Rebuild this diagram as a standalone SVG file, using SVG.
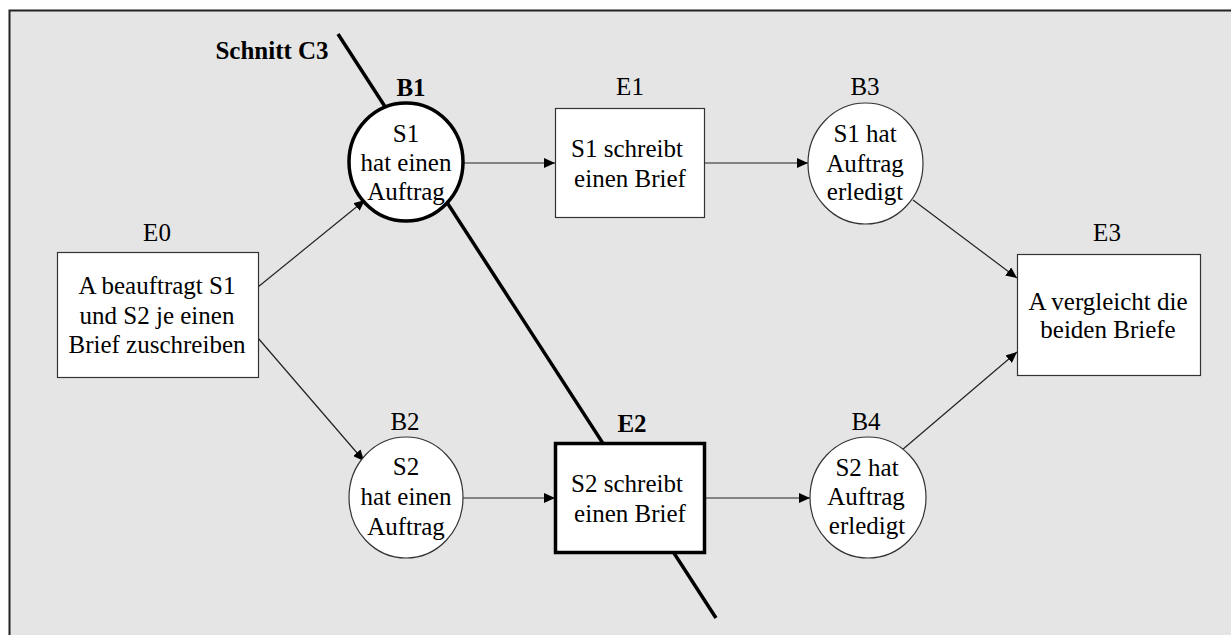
<svg xmlns="http://www.w3.org/2000/svg" width="1231" height="635" viewBox="0 0 1231 635">
<style>
text{font-family:"Liberation Serif","Times New Roman",serif;font-size:25px;fill:#000;text-anchor:middle}
.b{font-weight:bold}
.node{fill:#fff;stroke:#333;stroke-width:1.2}
.thick{fill:#fff;stroke:#000;stroke-width:3.5}
.conn{stroke:#222;stroke-width:1.2;fill:none;marker-end:url(#ah)}
</style>
<defs>
<marker id="ah" markerUnits="userSpaceOnUse" markerWidth="12" markerHeight="10" refX="11" refY="5" orient="auto">
<path d="M0,0 L11,5 L0,10 z" fill="#000"/>
</marker>
</defs>
<rect x="0" y="0" width="1231" height="635" fill="#fff"/>
<rect x="9.5" y="10.5" width="1240" height="640" fill="#e5e5e5" stroke="#222" stroke-width="2"/>
<g id="cut">
<line x1="338" y1="34" x2="716" y2="618" stroke="#000" stroke-width="3.5"/>
<text class="b" x="272" y="59">Schnitt C3</text>
</g>
<g id="connectors">
<line class="conn" x1="258" y1="287" x2="365" y2="200"/>
<line class="conn" x1="258" y1="338" x2="364" y2="461"/>
<line class="conn" x1="464" y1="163" x2="555" y2="163"/>
<line class="conn" x1="704" y1="163" x2="808" y2="163"/>
<line class="conn" x1="463" y1="498" x2="555" y2="498"/>
<line class="conn" x1="706" y1="498" x2="810" y2="498"/>
<line class="conn" x1="913" y1="200" x2="1017" y2="278"/>
<line class="conn" x1="902" y1="450" x2="1017" y2="352"/>
</g>
<g id="E0">
<text x="157" y="241">E0</text>
<rect class="node" x="57.5" y="252.5" width="201" height="125"/>
<text x="157" y="294">A beauftragt S1</text>
<text x="157" y="324">und S2 je einen</text>
<text x="157" y="353">Brief zuschreiben</text>
</g>
<g id="B1">
<text class="b" x="411" y="96">B1</text>
<ellipse class="thick" cx="406" cy="162" rx="57" ry="59"/>
<text x="406" y="142">S1</text>
<text x="406" y="171">hat einen</text>
<text x="406" y="200">Auftrag</text>
</g>
<g id="E1">
<text x="630" y="95">E1</text>
<rect class="node" x="555.5" y="108.5" width="149" height="109"/>
<text x="627" y="157">S1 schreibt</text>
<text x="630" y="187">einen Brief</text>
</g>
<g id="B3">
<text x="865" y="95">B3</text>
<ellipse class="node" cx="865.5" cy="163.5" rx="57.5" ry="60.5"/>
<text x="865" y="142">S1 hat</text>
<text x="865" y="172">Auftrag</text>
<text x="865" y="200">erledigt</text>
</g>
<g id="E3">
<text x="1107" y="241">E3</text>
<rect class="node" x="1017.5" y="254.5" width="183" height="121"/>
<text x="1108" y="310">A vergleicht die</text>
<text x="1108" y="338">beiden Briefe</text>
</g>
<g id="B2">
<text x="405" y="430">B2</text>
<ellipse class="node" cx="406" cy="497.5" rx="57" ry="60.5"/>
<text x="406" y="475">S2</text>
<text x="406" y="505">hat einen</text>
<text x="406" y="535">Auftrag</text>
</g>
<g id="E2">
<text class="b" x="632" y="432">E2</text>
<rect class="thick" x="555.5" y="443.5" width="149" height="109"/>
<text x="627" y="492">S2 schreibt</text>
<text x="630" y="522">einen Brief</text>
</g>
<g id="B4">
<text x="866" y="430">B4</text>
<ellipse class="node" cx="868" cy="497.5" rx="58" ry="60.5"/>
<text x="867" y="476">S2 hat</text>
<text x="866" y="505">Auftrag</text>
<text x="867" y="534">erledigt</text>
</g>
</svg>
